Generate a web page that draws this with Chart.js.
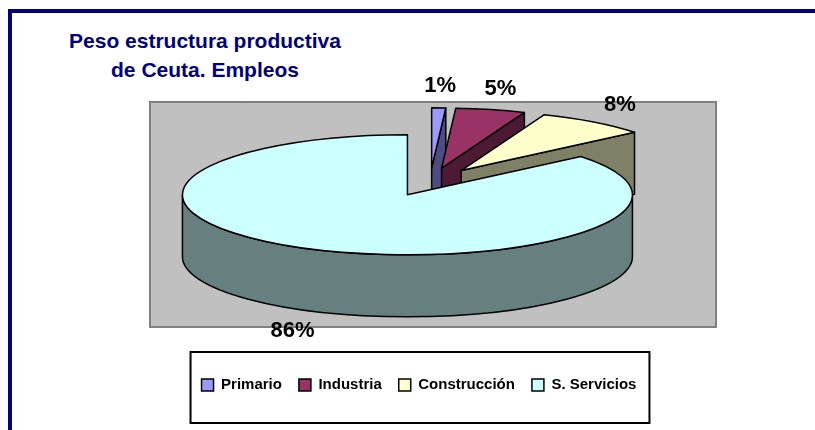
<!DOCTYPE html>
<html lang="es">
<head>
<meta charset="utf-8">
<title>Peso estructura productiva de Ceuta. Empleos</title>
<script src="https://cdn.jsdelivr.net/npm/chart.js@4.4.1/dist/chart.umd.min.js"></script>
<style>
  html, body { margin: 0; padding: 0; background: #fff; overflow: hidden; }
  #wrap { position: relative; width: 815px; height: 430px; overflow: hidden; }
  #frame { position: absolute; left: 8px; top: 9px; width: 900px; height: 500px; border: 4px solid #000080; }
  #title { position: absolute; left: 55px; top: 27px; width: 300px; text-align: center;
           font: bold 21px/28.5px 'Liberation Sans', Arial, sans-serif; color: #000080; }
  canvas { position: absolute; left: 0; top: 0; }
</style>
</head>
<body>
<div id="wrap">
  <div id="frame"></div>
  <div id="title">Peso estructura productiva<br>de Ceuta. Empleos</div>
  <canvas id="chart" width="815" height="430"></canvas>
</div>
<script>
  const categories = ['Primario', 'Industria', 'Construcción', 'S. Servicios'];
  const shares = [1, 5, 8, 86];
  const shareLabels = ['1%', '5%', '8%', '86%'];
  const topColors = ['#9999FF', '#993366', '#FFFFCC', '#CCFFFF'];
  const sideColors = ['#4C4C80', '#4D1A33', '#808066', '#668080'];

  const font = "'Liberation Sans', Arial, sans-serif";

  // empty box on the left so the pie sits a bit right of the legend
  const spacer = {
    id: 'spacer',
    beforeInit(chart, args, opts) {
      Chart.layouts.addBox(chart, {
        position: 'left',
        weight: 0,
        fullSize: false,
        options: {},
        left: 0, top: 0, right: 0, bottom: 0, width: 0, height: 0,
        isHorizontal() { return false; },
        update(maxWidth, maxHeight) { this.width = opts.width; this.height = maxHeight; },
        draw() {}
      });
    }
  };

  // fake 3D: squash the pie vertically, extrude it, and draw the labels
  const pie3d = {
    id: 'pie3d',
    beforeDraw(chart, args, opts) {
      const { ctx } = chart;
      const f = opts.frame;
      ctx.save();
      ctx.fillStyle = '#C0C0C0';
      ctx.fillRect(f.left, f.top, f.right - f.left, f.bottom - f.top);
      ctx.strokeStyle = '#808080';
      ctx.lineWidth = 2;
      ctx.strokeRect(f.left, f.top, f.right - f.left, f.bottom - f.top);
      ctx.restore();
    },
    slices(chart, opts) {
      const meta = chart.getDatasetMeta(0);
      const k = opts.tilt;
      return meta.data.map((arc, i) => {
        const mid = (arc.startAngle + arc.endAngle) / 2;
        const off = arc.options.offset || 0;
        return {
          i, mid,
          a0: arc.startAngle, a1: arc.endAngle,
          rx: arc.outerRadius, ry: arc.outerRadius * k,
          cx: arc.x + Math.cos(mid) * off,
          cy: arc.y - opts.depth / 2 + Math.sin(mid) * off * k
        };
      });
    },
    beforeDatasetsDraw(chart, args, opts) {
      const { ctx } = chart;
      const d = opts.depth;
      const tops = chart.data.datasets[0].backgroundColor;
      const list = this.slices(chart, opts).sort((a, b) => Math.sin(a.mid) - Math.sin(b.mid));

      ctx.save();
      ctx.lineWidth = 1.5;
      ctx.strokeStyle = '#000';
      ctx.lineJoin = 'round';

      list.forEach((s) => {
        ctx.fillStyle = opts.sideColors[s.i];
        const face = (a) => {
          const px = s.cx + s.rx * Math.cos(a);
          const py = s.cy + s.ry * Math.sin(a);
          ctx.beginPath();
          ctx.moveTo(s.cx, s.cy);
          ctx.lineTo(px, py);
          ctx.lineTo(px, py + d);
          ctx.lineTo(s.cx, s.cy + d);
          ctx.closePath();
          ctx.fill();
          ctx.stroke();
        };
        if (Math.cos(s.a0) < 0) face(s.a0);
        if (Math.cos(s.a1) > 0) face(s.a1);

        const w0 = Math.max(s.a0, 0);
        const w1 = Math.min(s.a1, Math.PI);
        if (w1 > w0) {
          ctx.beginPath();
          ctx.ellipse(s.cx, s.cy, s.rx, s.ry, 0, w0, w1);
          ctx.lineTo(s.cx + s.rx * Math.cos(w1), s.cy + s.ry * Math.sin(w1) + d);
          ctx.ellipse(s.cx, s.cy + d, s.rx, s.ry, 0, w1, w0, true);
          ctx.closePath();
          ctx.fill();
          ctx.stroke();
        }

        ctx.fillStyle = tops[s.i];
        ctx.beginPath();
        ctx.moveTo(s.cx, s.cy);
        ctx.ellipse(s.cx, s.cy, s.rx, s.ry, 0, s.a0, s.a1);
        ctx.closePath();
        ctx.fill();
        ctx.stroke();
      });
      ctx.restore();
      return false;
    },
    afterDraw(chart, args, opts) {
      const { ctx } = chart;
      ctx.save();

      // share labels
      ctx.font = 'bold 22px ' + font;
      ctx.fillStyle = '#000';
      ctx.textAlign = 'center';
      ctx.textBaseline = 'middle';
      this.slices(chart, opts).forEach((s) => {
        const x = s.cx + opts.reach.x * s.rx * Math.cos(s.mid);
        let y = s.cy + opts.reach.y * s.ry * Math.sin(s.mid);
        if (Math.sin(s.mid) > 0) y += opts.depth;
        ctx.fillText(opts.labels[s.i], x, y);
      });

      // box round the legend
      const boxes = chart.legend.legendHitBoxes;
      if (boxes && boxes.length) {
        const left = Math.min(...boxes.map((b) => b.left)) - 11;
        const right = Math.max(...boxes.map((b) => b.left + b.width)) + 13;
        const mid = boxes[0].top + boxes[0].height / 2;
        ctx.strokeStyle = '#000';
        ctx.lineWidth = 2;
        ctx.strokeRect(left, mid - 33, right - left, 71);
      }
      ctx.restore();
    }
  };

  new Chart(document.getElementById('chart'), {
    type: 'pie',
    data: {
      labels: categories,
      datasets: [{
        data: shares,
        backgroundColor: topColors,
        borderColor: '#000',
        borderWidth: 1.5,
        offset: 53
      }]
    },
    options: {
      responsive: false,
      animation: false,
      events: [],
      radius: 225,
      layout: { padding: { left: 23, right: 0, top: 65.5, bottom: 27.5 } },
      plugins: {
        legend: {
          position: 'bottom',
          labels: {
            color: '#000',
            font: { family: font, size: 15, weight: 'bold' },
            boxWidth: 12,
            boxHeight: 12,
            padding: 17
          }
        },
        tooltip: { enabled: false },
        spacer: { width: 22 },
        pie3d: {
          tilt: 60 / 225,
          depth: 62,
          sideColors,
          labels: shareLabels,
          reach: { x: 1.2, y: 1.36 },
          frame: { left: 150, top: 102, right: 716, bottom: 327 }
        }
      }
    },
    plugins: [spacer, pie3d]
  });
</script>
</body>
</html>
